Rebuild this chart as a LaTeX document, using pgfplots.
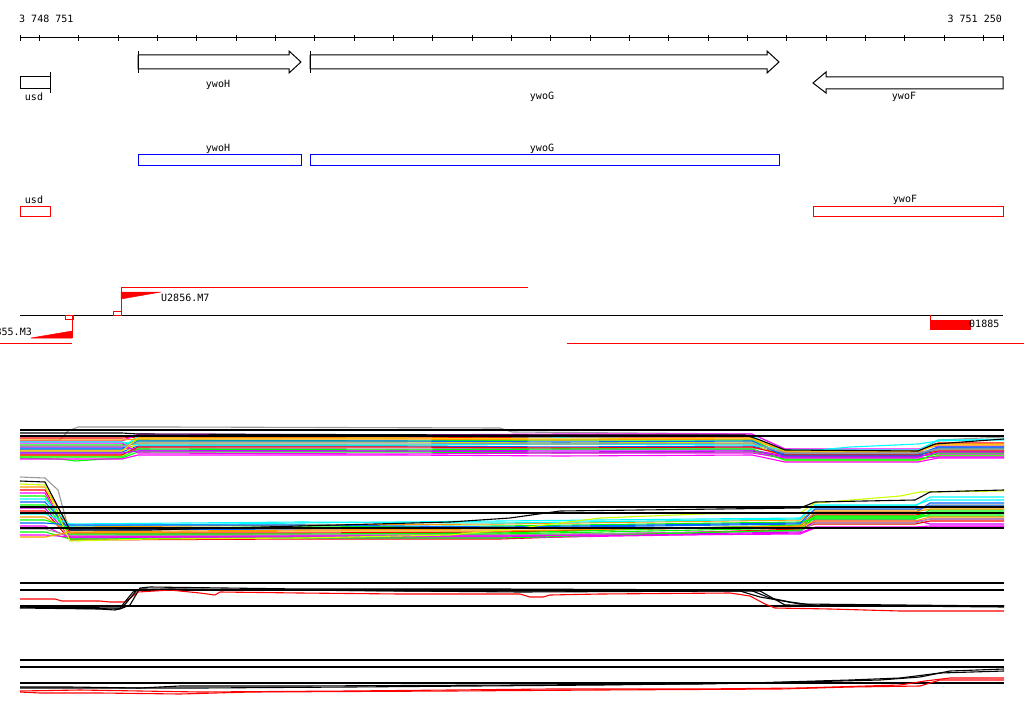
\documentclass[border=0pt]{standalone}
\usepackage{pgfplots}
\pgfplotsset{compat=1.18}
\usepackage{fontspec}
\setmonofont{DejaVu Sans Mono}
\definecolor{cred}{HTML}{FF0000}
\definecolor{cmag}{HTML}{FF00FF}
\definecolor{clime}{HTML}{00FF00}
\definecolor{ccyan}{HTML}{00FFFF}
\definecolor{corange}{HTML}{FF9900}
\definecolor{cblue}{HTML}{0066FF}
\definecolor{cgray}{HTML}{999999}
\definecolor{cyg}{HTML}{CCFF00}
\definecolor{cviolet}{HTML}{CC00FF}
\definecolor{cyellow}{HTML}{FFCC00}
\definecolor{gblue}{HTML}{0000FF}
\tikzset{
  lbl/.style={font=\ttfamily\fontsize{10}{11}\selectfont, inner sep=0pt},
  tr/.style={line width=1.1pt},
  ref/.style={black, line width=1.3pt}
}

\begin{document}
\begin{tikzpicture}
\begin{axis}[
    name=ax
  , scale only axis
  , width=1024pt, height=714pt
  , xmin=0, xmax=1024, ymin=0, ymax=714
  , y dir=reverse
  , hide axis
  , unbounded coords=jump
  , every axis plot/.append style={sharp plot}
  ]
% ---- ruler
\addplot[black, line width=1pt] coordinates {(20,38)(1003.5,38)};
\addplot[black, line width=1pt] coordinates {
  (20,35)(20,41)(20,nan) (39.3,35)(39.3,41)(39.3,nan) (78.7,35)(78.7,41)(78.7,nan)
  (118,35)(118,41)(118,nan) (157.3,35)(157.3,41)(157.3,nan) (196.7,35)(196.7,41)(196.7,nan)
  (236,35)(236,41)(236,nan) (275.3,35)(275.3,41)(275.3,nan) (314.7,35)(314.7,41)(314.7,nan)
  (354,35)(354,41)(354,nan) (393.3,35)(393.3,41)(393.3,nan) (432.7,35)(432.7,41)(432.7,nan)
  (472,35)(472,41)(472,nan) (511.3,35)(511.3,41)(511.3,nan) (550.7,35)(550.7,41)(550.7,nan)
  (590,35)(590,41)(590,nan) (629.3,35)(629.3,41)(629.3,nan) (668.7,35)(668.7,41)(668.7,nan)
  (708,35)(708,41)(708,nan) (747.3,35)(747.3,41)(747.3,nan) (786.7,35)(786.7,41)(786.7,nan)
  (826,35)(826,41)(826,nan) (865.3,35)(865.3,41)(865.3,nan) (904.7,35)(904.7,41)(904.7,nan)
  (944,35)(944,41)(944,nan) (983.3,35)(983.3,41)(983.3,nan) (1003.5,35)(1003.5,41)
};
\node[lbl, anchor=west] at (axis cs:19,19) {3 748 751};
\node[lbl, anchor=east] at (axis cs:1002,19) {3 751 250};

% ---- genes (arrows)
\addplot[black, line width=1pt, fill=white] coordinates {(20,77)(50,77)(50,89)(20,89)(20,77)};
\addplot[black, line width=1pt] coordinates {(50,72)(50,93)};
\addplot[black, line width=1pt, fill=white] coordinates {(138,55)(289,55)(289,51)(301,62)(289,73)(289,69)(138,69)(138,55)};
\addplot[black, line width=1pt] coordinates {(138,51)(138,73)};
\addplot[black, line width=1pt, fill=white] coordinates {(310,55)(767,55)(767,51)(779,62)(767,73)(767,69)(310,69)(310,55)};
\addplot[black, line width=1pt] coordinates {(310,51)(310,73)};
\addplot[black, line width=1pt, fill=white] coordinates {(1003,77)(826,77)(826,72)(813,83)(826,93)(826,89)(1003,89)(1003,77)};
\node[lbl] at (axis cs:34,97) {usd};
\node[lbl] at (axis cs:218,85) {ywoH};
\node[lbl] at (axis cs:542,97) {ywoG};
\node[lbl] at (axis cs:904,97) {ywoF};

% ---- row 2
\addplot[gblue, line width=1pt] coordinates {(138,155)(301,155)(301,166)(138,166)(138,155)};
\addplot[gblue, line width=1pt] coordinates {(310,155)(779,155)(779,166)(310,166)(310,155)};
\node[lbl] at (axis cs:218,149) {ywoH};
\node[lbl] at (axis cs:542,149) {ywoG};

% ---- row 3
\addplot[cred, line width=1pt] coordinates {(20,207)(50,207)(50,217)(20,217)(20,207)};
\addplot[cred, line width=1pt] coordinates {(813,207)(1003,207)(1003,217)(813,217)(813,207)};
\node[lbl] at (axis cs:34,200) {usd};
\node[lbl] at (axis cs:905,200) {ywoF};

% ---- transcription units
\addplot[black, line width=1pt] coordinates {(20,315)(1003,315)};
\addplot[cred, line width=1pt] coordinates {(121,287)(528,287)};
\addplot[cred, line width=1pt] coordinates {(121,287)(121,315)};
\addplot[cred, fill=cred, line width=0.5pt] coordinates {(121,292)(161,292)(121,299)(121,292)};
\addplot[cred, line width=1pt] coordinates {(113,311)(121,311)(121,315)(113,315)(113,311)};
\node[lbl, anchor=west] at (axis cs:161,298) {U2856.M7};
\addplot[cred, line width=1pt] coordinates {(72,315)(72,338)};
\addplot[cred, fill=cred, line width=0.5pt] coordinates {(31,338)(72,338)(72,331)(31,338)};
\addplot[cred, line width=1pt] coordinates {(65,315)(73,315)(73,319)(65,319)(65,315)};
\addplot[cred, line width=1pt] coordinates {(0,343)(72,343)};
\node[lbl, anchor=east] at (axis cs:32,332) {U2855.M3};
\addplot[cred, line width=1pt] coordinates {(930,315)(930,320)};
\addplot[cred, fill=cred, line width=0.5pt] coordinates {(930,320)(970,320)(970,329)(930,329)(930,320)};
\node[lbl, anchor=west] at (axis cs:969,324) {01885};
\addplot[cred, line width=1pt] coordinates {(567,343)(1024,343)};

% ---- track A
\addplot[tr, cgray] coordinates {(20,441)(60,440)(68,431)(78,427)(165,427)(500,428)(512,432)(752,434)(785,449)(918,452)(938,440)(1004,437)};
\addplot[tr, cred] coordinates {(20,438)(122,438)(138,437)(400,438)(560,437)(752,437)(785,451)(918,451)(938,443)(1004,443)};
\addplot[tr, cmag] coordinates {(20,441)(122,441)(138,434)(400,435)(560,434)(752,434)(785,449)(918,449)(938,446)(1004,446)};
\addplot[tr, clime] coordinates {(20,445)(122,445)(138,440)(400,441)(560,440)(752,440)(785,455)(918,455)(938,449)(1004,449)};
\addplot[tr, ccyan] coordinates {(20,448)(122,448)(138,436)(400,436)(560,437)(752,436)(785,453)(850,447)(918,444)(938,441)(1004,439)};
\addplot[tr, corange] coordinates {(20,450)(122,450)(138,444)(400,445)(560,444)(752,444)(785,457)(918,457)(938,452)(1004,452)};
\addplot[tr, cblue] coordinates {(20,452)(122,452)(138,446)(400,446)(560,447)(752,446)(785,454)(918,454)(938,447)(1004,447)};
\addplot[tr, cgray] coordinates {(20,454)(122,454)(138,448)(400,449)(560,448)(752,448)(785,452)(918,452)(938,450)(1004,450)};
\addplot[tr, cyg] coordinates {(20,456)(122,456)(138,442)(400,442)(560,443)(752,442)(785,461)(918,461)(938,455)(1004,455)};
\addplot[tr, cviolet] coordinates {(20,447)(122,447)(138,450)(400,451)(560,450)(752,450)(785,456)(918,456)(938,454)(1004,454)};
\addplot[tr, clime] coordinates {(20,458)(60,459)(75,461)(122,458)(138,452)(400,452)(560,453)(752,452)(785,459)(918,459)(938,456)(1004,456)};
\addplot[tr, cmag] coordinates {(20,443)(122,443)(138,453)(400,454)(560,453)(752,453)(785,458)(918,458)(938,457)(1004,457)};
\addplot[tr, corange] coordinates {(20,440)(122,440)(138,439)(400,439)(560,440)(752,439)(785,452)(918,452)(938,444)(1004,444)};
\addplot[tr, cred] coordinates {(20,455)(122,455)(138,447)(400,447)(560,448)(752,447)(785,455)(918,455)(938,451)(1004,451)};
\addplot[tr, ccyan] coordinates {(20,442)(122,442)(138,445)(400,445)(560,444)(752,445)(785,450)(918,450)(938,440)(1004,440)};
\addplot[tr, cblue] coordinates {(20,449)(122,449)(138,441)(400,441)(560,442)(752,441)(785,456)(918,456)(938,448)(1004,448)};
\addplot[tr, clime] coordinates {(20,457)(122,457)(138,449)(400,450)(560,449)(752,449)(785,460)(918,460)(938,453)(1004,453)};
\addplot[tr, cmag] coordinates {(20,459)(122,459)(138,455)(400,455)(560,456)(752,455)(785,462)(918,462)(938,458)(1004,458)};
\addplot[tr, cgray] coordinates {(20,446)(122,446)(138,443)(400,443)(560,444)(752,443)(785,453)(918,453)(938,449)(1004,449)};
\addplot[tr, cyellow] coordinates {(20,451)(122,451)(138,438)(400,438)(560,439)(752,438)(785,451)(918,451)(938,445)(1004,445)};
\addplot[tr, cviolet] coordinates {(20,453)(122,453)(138,451)(400,451)(560,452)(752,451)(785,457)(918,457)(938,452)(1004,452)};
\addplot[tr, black] coordinates {(20,433)(122,433)(138,434)(500,435)(745,435)(760,440)(785,450)(918,451)(935,444)(1004,439)};
\addplot[ref] coordinates {(20,430)(1004,430)};
\addplot[ref] coordinates {(20,436)(1004,436)};

% ---- track B
\addplot[tr, cgray] coordinates {(20,477)(45,478)(58,490)(70,534)(300,535)(500,535)(800,531)(815,512)(915,512)(930,505)(1004,505)};
\addplot[tr, corange] coordinates {(20,487)(45,487)(70,527)(300,525)(500,524)(800,520)(815,510)(915,510)(930,507)(1004,507)};
\addplot[tr, cred] coordinates {(20,490)(45,490)(70,533)(300,533)(500,532)(800,526)(815,515)(915,515)(930,513)(1004,513)};
\addplot[tr, cmag] coordinates {(20,493)(45,493)(70,536)(300,536)(500,536)(800,530)(815,522)(915,522)(930,519)(1004,519)};
\addplot[tr, clime] coordinates {(20,496)(45,496)(70,538)(300,537)(500,534)(800,528)(815,518)(915,518)(930,510)(1004,510)};
\addplot[tr, ccyan] coordinates {(20,499)(45,499)(70,526)(300,523)(500,521)(800,518)(815,506)(915,506)(930,497)(1004,497)};
\addplot[tr, cblue] coordinates {(20,502)(45,502)(70,530)(300,529)(500,528)(800,524)(815,513)(915,513)(930,503)(1004,503)};
\addplot[tr, clime] coordinates {(20,505)(45,505)(70,534)(300,534)(500,533)(800,525)(815,516)(915,516)(930,516)(1004,516)};
\addplot[tr, cviolet] coordinates {(20,508)(45,508)(70,537)(300,537)(500,537)(800,532)(815,520)(915,520)(930,524)(1004,524)};
\addplot[tr, cred] coordinates {(20,511)(45,511)(70,540)(300,539)(500,539)(800,529)(815,524)(915,524)(930,521)(1004,521)};
\addplot[tr, ccyan] coordinates {(20,514)(45,514)(70,524)(300,522)(500,523)(800,519)(815,505)(915,505)(930,500)(1004,500)};
\addplot[tr, corange] coordinates {(20,517)(45,517)(70,533)(300,531)(500,531)(800,526)(815,512)(915,512)(930,509)(1004,509)};
\addplot[tr, clime] coordinates {(20,520)(45,520)(70,528)(300,527)(500,526)(800,522)(815,519)(915,519)(930,514)(1004,514)};
\addplot[tr, cblue] coordinates {(20,523)(45,523)(70,525)(300,525)(500,527)(800,523)(815,509)(915,509)(930,506)(1004,506)};
\addplot[tr, cmag] coordinates {(20,526)(45,526)(70,538)(300,538)(500,538)(800,533)(815,527)(915,527)(930,526)(1004,526)};
\addplot[tr, cgray] coordinates {(20,529)(45,529)(70,536)(300,535)(500,535)(800,531)(815,523)(915,523)(930,519)(1004,519)};
\addplot[tr, clime] coordinates {(20,532)(45,532)(70,539)(300,538)(500,538)(800,530)(815,517)(915,517)(930,512)(1004,512)};
\addplot[tr, cmag] coordinates {(20,535)(45,535)(70,537)(300,536)(500,536)(800,534)(815,528)(915,528)(930,527)(1004,527)};
\addplot[tr, corange] coordinates {(20,537)(45,537)(70,532)(300,530)(500,529)(800,527)(815,521)(915,521)(930,517)(1004,517)};
\addplot[tr, cyg] coordinates {(20,484)(45,485)(70,541)(150,539)(300,538)(450,535)(520,528)(600,518)(700,514)(800,513)(815,503)(900,496)(920,492)(1004,491)};
\addplot[tr, black] coordinates {(20,481)(45,482)(70,530)(150,530)(300,526)(450,522)(510,518)(560,511)(800,508)(815,502)(915,500)(930,492)(1004,490)};
\addplot[ref] coordinates {(20,507)(1004,507)};
\addplot[ref] coordinates {(20,513)(1004,513)};
\addplot[ref] coordinates {(20,528)(1004,528)};

% ---- track C
\addplot[ref] coordinates {(20,583)(1004,583)};
\addplot[ref] coordinates {(20,590)(1004,590)};
\addplot[ref] coordinates {(20,606)(1004,606)};
\addplot[tr, cred] coordinates {(20,599)(55,599)(62,601)(100,601)(110,602)(125,602)(138,592)(170,590)(200,593)(215,595)(220,592)(300,593)(400,594)(520,594)(530,597)(543,597)(550,595)(600,594)(730,593)(750,596)(765,604)(775,608)(830,609)(900,611)(1004,611)};
\addplot[tr, black] coordinates {(20,607)(55,608)(120,609)(130,605)(140,588)(150,587)(300,589)(500,589)(750,590)(770,598)(790,602)(820,606)(1004,606)};
\addplot[tr, black] coordinates {(20,608)(100,609)(115,610)(122,608)(137,590)(170,589)(400,591)(760,591)(785,605)(1004,607)};
\addplot[tr, black] coordinates {(20,607)(120,608)(133,592)(140,589)(300,590)(520,592)(740,591)(760,597)(800,604)(1004,606)};

% ---- track D
\addplot[ref] coordinates {(20,660)(1004,660)};
\addplot[ref] coordinates {(20,667)(1004,667)};
\addplot[ref] coordinates {(20,683)(1004,683)};
\addplot[tr, black] coordinates {(20,687)(70,687)(140,688)(180,686)(300,686)(520,685)(700,684)(800,682)(880,680)(920,677)(950,671)(1004,669)};
\addplot[tr, black] coordinates {(20,688)(200,688)(350,687)(600,685)(750,683)(850,680)(900,678)(940,673)(1004,671)};
\addplot[tr, cred] coordinates {(20,692)(40,693)(100,693)(180,694)(250,692)(450,691)(600,690)(780,689)(850,687)(920,686)(930,683)(940,680)(1004,680)};
\addplot[tr, cred] coordinates {(20,691)(80,690)(200,692)(350,691)(550,689)(700,689)(800,688)(900,685)(925,681)(950,678)(1004,678)};
\end{axis}
\pgfresetboundingbox
\path (ax.south west) rectangle (ax.north east);
\end{tikzpicture}
\end{document}
